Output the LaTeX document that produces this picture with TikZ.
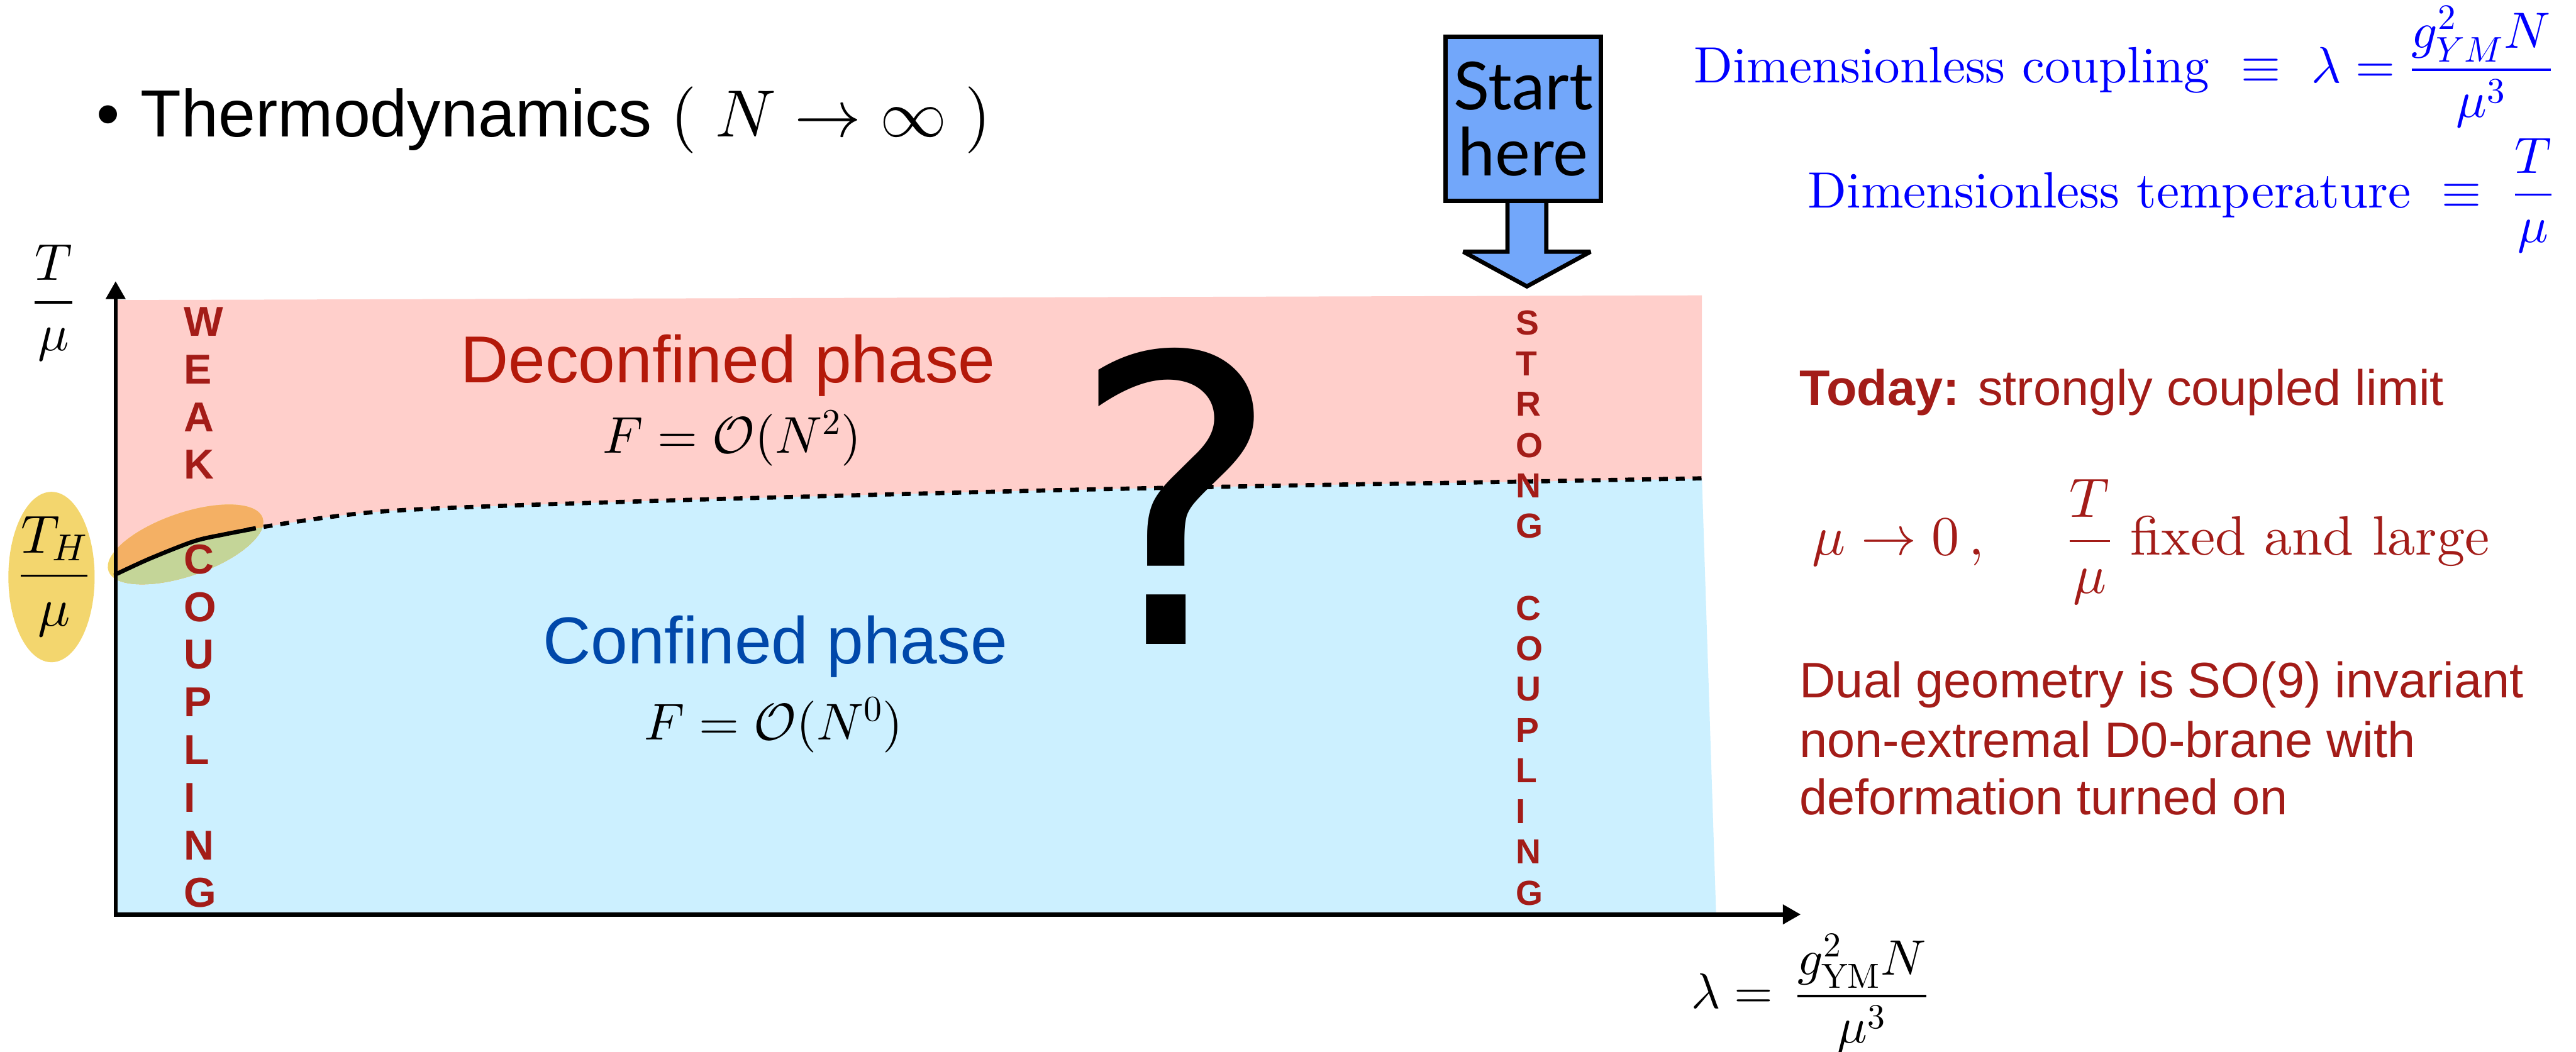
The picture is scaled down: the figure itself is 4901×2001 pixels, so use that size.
\documentclass[tikz,border=0pt]{standalone}
\usepackage{amsmath}
\usepackage{fontspec}
\setmainfont{lmroman10-regular.otf}
\DeclareFontShape{OT1}{cmr}{m}{n}{<->cmr10}{}
\DeclareFontShape{OML}{cmm}{m}{it}{<->cmmi10}{}
\DeclareFontShape{OMS}{cmsy}{m}{n}{<->cmsy10}{}
\DeclareFontShape{OMX}{cmex}{m}{n}{<->cmex10}{}
\newfontfamily\arialf{Liberation Sans}
\newfontfamily\qfont{DejaVu Sans}
\newfontfamily\startfont{Lato}
\usetikzlibrary{arrows.meta,calc}
\definecolor{pinkfill}{RGB}{255,207,203}
\definecolor{bluefill}{RGB}{204,240,255}
\definecolor{ovyellow}{RGB}{243,214,110}
\definecolor{ovorange}{RGB}{244,176,100}
\definecolor{ovgreen}{RGB}{196,213,152}
\definecolor{thyellow}{RGB}{243,214,110}
\definecolor{startblue}{RGB}{114,167,250}
\definecolor{darkred}{RGB}{163,28,24}
\definecolor{decred}{RGB}{180,25,10}
\definecolor{confblue}{RGB}{0,72,170}
\definecolor{pureblue}{RGB}{0,0,255}
\begin{document}
\begin{tikzpicture}[x=0.01cm,y=-0.01cm,
  txt/.style={inner sep=0pt,outer sep=0pt},
  heavy/.style={line width=0.08cm},
  weakl/.style={txt,anchor=base west,text=darkred,font=\arialf\bfseries\fontsize{22.6}{26}\selectfont},
  strongl/.style={txt,anchor=base west,text=darkred,font=\arialf\bfseries\fontsize{18.8}{22}\selectfont},
  mathlbl/.style={txt,font=\fontsize{27.5}{33}\selectfont},
  sidetxt/.style={txt,anchor=base west,text=darkred,font=\arialf\fontsize{27}{32}\selectfont},
  bluetxt/.style={txt,anchor=base east,text=pureblue,font=\fontsize{27.6}{33}\selectfont},
  phase/.style={txt,anchor=base,font=\arialf\fontsize{35.9}{40}\selectfont}
]
\useasboundingbox (0,0) rectangle (4901,2001);
\fill[white] (0,0) rectangle (4901,2001);

% phase regions
\fill[pinkfill] (220,571) -- (3238,562) -- (3238,1740) -- (220,1740) -- cycle;
\fill[bluefill] plot[smooth] coordinates {(220,1093) (285,1063) (369,1030) (426,1017) (478,1007) (730,973) (1250,953) (2000,933) (2500,923) (2750,919) (3238,911)} -- (3265,1740) -- (220,1740) -- cycle;

% highlight ellipse on the transition start
\begin{scope}
  \clip[rotate around={19:(353,1036)}] (353,1036) ellipse [x radius=1.55cm,y radius=0.6cm];
  \fill[ovyellow] (100,850) rectangle (650,1250);
  \fill[ovorange] (220,850) rectangle (650,1250);
  \fill[ovgreen] plot[smooth] coordinates {(220,1093) (285,1063) (369,1030) (426,1017) (478,1007) (730,973) (1250,953)} -- (1250,1250) -- (220,1250) -- cycle;
\end{scope}

% transition curve
\draw[heavy,line cap=round] plot[smooth] coordinates {(220,1093) (285,1063) (369,1030) (426,1017) (478,1007)};
\draw[heavy,dash pattern=on 0.17cm off 0.15cm] plot[smooth] coordinates {(470,1008) (730,973) (1250,953) (2000,933) (2500,923) (2750,919) (3251,910)};

% axes
\coordinate (O) at (220,1740);
\coordinate (ytop) at (220,535);
\coordinate (xend) at (3426,1740);
\draw[heavy,line join=miter,{Triangle[length=0.34cm,width=0.36cm]}-{Triangle[length=0.34cm,width=0.36cm]}] (ytop) -- (O) -- (xend);

% axis labels
\node[mathlbl,anchor=base,font=\fontsize{28}{33}\selectfont] (tmu) at (102,600) {$\dfrac{T}{\mu}$};
\fill[thyellow] (98,1098) ellipse [x radius=0.82cm,y radius=1.62cm];
\node[mathlbl,anchor=base,font=\fontsize{29}{34}\selectfont] (thmu) at (103,1121) {$\dfrac{T_H}{\mu}$};
\node[mathlbl,anchor=base west,font=\fontsize{27}{32}\selectfont] (xlab) at (3218,1919) {$\lambda=\,\dfrac{g^2_{\mathrm{YM}}N}{\mu^3}$};

% weak / strong coupling letters
\foreach \l/\yy in {W/639,E/730,A/821,K/911,C/1092,O/1183,U/1273,P/1364,L/1454,I/1545,N/1636,G/1726}
  \node[weakl] (weak-\yy) at (350,\yy) {\l};
\foreach \l/\yy in {S/637,T/715,R/792,O/870,N/947,G/1024,C/1180,O/1257,U/1334,P/1412,L/1489,I/1567,N/1644,G/1722}
  \node[strongl] (strong-\yy) at (2884,\yy) {\l};

% phase labels
\node[phase,text=decred] (dec) at (1385,728) {Deconfined phase};
\node[mathlbl,anchor=base,font=\fontsize{28}{33}\selectfont] (fdec) at (1393,862) {$F=\mathcal{O}(N^2)$};
\node[phase,text=confblue] (conf) at (1475,1263) {Confined phase};
\node[mathlbl,anchor=base,font=\fontsize{28}{33}\selectfont] (fconf) at (1472,1408) {$F=\mathcal{O}(N^0)$};

% question mark
\node[txt,anchor=base,font=\qfont\fontsize{216}{216}\selectfont] (q) at (2238,1226) {?};

% title
\node[txt,anchor=base west,font=\arialf\fontsize{36.1}{40}\selectfont] (thermo) at (184,260) {\textbullet\hspace{0.39cm}Thermodynamics $(\;N\to\infty\;)$};

% start here
\draw[heavy,fill=startblue,line join=miter,miter limit=3] (2868,382) -- (2868,479) -- (2784,479) -- (2905,545) -- (3026,479) -- (2942,479) -- (2942,382);
\node[txt,draw,heavy,fill=startblue,minimum width=2.96cm,minimum height=3.12cm,align=center,font=\startfont\fontsize{35.9}{35.6}\selectfont] (start) at (2898,226) {Start\\here};

% definitions (top right)
\node[bluetxt] (coup) at (4857,157) {Dimensionless coupling $\;\equiv\ \lambda=\dfrac{g_{YM}^2N}{\mu^3}$};
\node[bluetxt] (temp) at (4859,395) {Dimensionless temperature $\;\equiv\ \dfrac{T}{\mu}$};

% right text
\node[sidetxt] (today) at (3424,771) {\textbf{Today:} strongly coupled limit};
\node[txt,anchor=base west,text=darkred,font=\fontsize{30}{36}\selectfont] (limit) at (3448,1056) {$\mu\to 0\,,\quad\ \dfrac{T}{\mu}$\ fixed and large};
\node[sidetxt] (dual1) at (3424,1327) {Dual geometry is SO(9) invariant};
\node[sidetxt] (dual2) at (3424,1441) {non-extremal D0-brane with};
\node[sidetxt] (dual3) at (3424,1550) {deformation turned on};
\end{tikzpicture}
\end{document}
